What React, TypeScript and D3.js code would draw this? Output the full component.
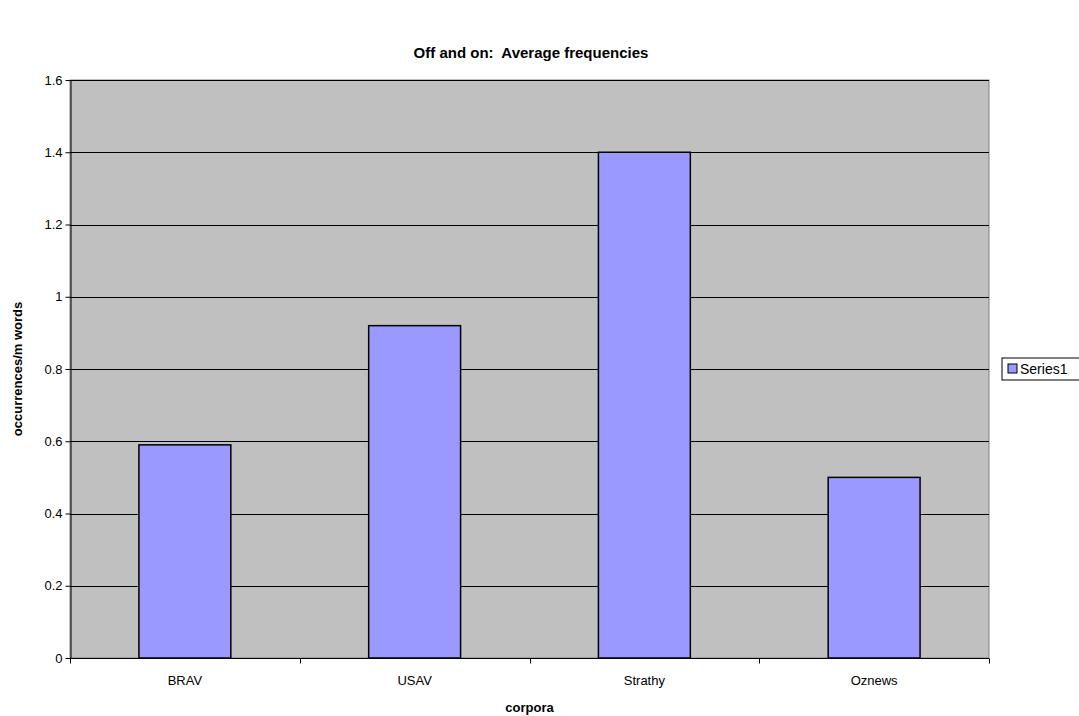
import React, { useEffect, useRef } from 'react';
import * as d3 from 'd3';

const categories = ['BRAV', 'USAV', 'Strathy', 'Oznews'];
const series1 = [0.59, 0.92, 1.4, 0.5];
const yTicks = [0, 0.2, 0.4, 0.6, 0.8, 1, 1.2, 1.4, 1.6];

const App = () => {
  const svgRef = useRef<SVGSVGElement>(null);

  useEffect(() => {
    const width = 1079;
    const height = 716;
    const margin = { top: 80, right: 90, bottom: 58, left: 70 };
    const svg = d3.select(svgRef.current);
    svg.selectAll('*').remove();
    svg.attr('width', width).attr('height', height)
      .style('font-family', '"Liberation Sans", Arial, sans-serif');

    const chartWidth = width - margin.left - margin.right;
    const chartHeight = height - margin.top - margin.bottom;

    const x = d3.scaleBand().domain(categories).range([0, chartWidth]).paddingInner(0).paddingOuter(0);
    const y = d3.scaleLinear().domain([0, 1.6]).range([chartHeight, 0]);

    const g = svg.append('g').attr('transform', `translate(${margin.left},${margin.top})`);

    // plot background
    g.append('rect')
      .attr('width', chartWidth).attr('height', chartHeight)
      .attr('fill', '#c0c0c0').attr('stroke', '#808080').attr('stroke-width', 1);

    // gridlines
    g.selectAll('.grid').data(yTicks.filter(t => t > 0)).enter().append('line')
      .attr('x1', 0).attr('x2', chartWidth)
      .attr('y1', d => Math.round(y(d)) + 0.5).attr('y2', d => Math.round(y(d)) + 0.5)
      .attr('stroke', '#000').attr('stroke-width', 1);

    // bars
    const barW = x.bandwidth() * 0.4;
    g.selectAll('.bar').data(series1).enter().append('rect')
      .attr('x', (d, i) => x(categories[i])! + (x.bandwidth() - barW) / 2)
      .attr('y', d => y(d))
      .attr('width', barW)
      .attr('height', d => chartHeight - y(d))
      .attr('fill', '#9999ff').attr('stroke', '#000').attr('stroke-width', 1.5);

    // y axis
    const yAxis = d3.axisLeft(y).tickValues(yTicks).tickSize(5).tickSizeOuter(0)
      .tickFormat(d => String(+d));
    const ya = g.append('g').attr('transform', 'translate(0.5,0)').call(yAxis);
    ya.select('.domain').attr('stroke', '#000');
    ya.selectAll('text').attr('font-size', 13).attr('fill', '#000').attr('font-family', '"Liberation Sans", Arial, sans-serif');

    // x axis
    const xa = g.append('g').attr('transform', `translate(0,${chartHeight + 0.5})`);
    xa.append('line').attr('x1', 0).attr('x2', chartWidth).attr('stroke', '#000');
    const bounds = d3.range(categories.length + 1).map(i => i * x.step());
    xa.selectAll('.xt').data(bounds).enter().append('line')
      .attr('x1', d => Math.round(d) + 0.5).attr('x2', d => Math.round(d) + 0.5)
      .attr('y1', 0).attr('y2', 5).attr('stroke', '#000');
    xa.selectAll('.xl').data(categories).enter().append('text')
      .attr('x', d => x(d)! + x.bandwidth() / 2).attr('y', 26)
      .attr('text-anchor', 'middle').attr('font-size', 13).text(d => d);

    // title
    svg.append('text').attr('x', 531).attr('y', 58).attr('text-anchor', 'middle')
      .style('white-space', 'pre')
      .attr('font-size', 15).attr('font-weight', 'bold').text('Off and on:  Average frequencies');

    // axis titles
    svg.append('text').attr('x', margin.left + chartWidth / 2).attr('y', 712)
      .attr('text-anchor', 'middle').attr('font-size', 13).attr('font-weight', 'bold').text('corpora');
    svg.append('text').attr('transform', `translate(22,${margin.top + chartHeight / 2}) rotate(-90)`)
      .attr('text-anchor', 'middle').attr('font-size', 13).attr('font-weight', 'bold').text('occurrences/m words');

    // legend
    const lg = svg.append('g').attr('transform', 'translate(1002,358)');
    lg.append('rect').attr('width', 90).attr('height', 22).attr('fill', '#fff').attr('stroke', '#000');
    lg.append('rect').attr('x', 6).attr('y', 6).attr('width', 9).attr('height', 9)
      .attr('fill', '#9999ff').attr('stroke', '#000');
    lg.append('text').attr('x', 18).attr('y', 16).attr('font-size', 14).text('Series1');
  }, []);

  return <svg ref={svgRef} style={{ position: 'absolute', left: 0, top: 0 }}></svg>;
};

export default App;
